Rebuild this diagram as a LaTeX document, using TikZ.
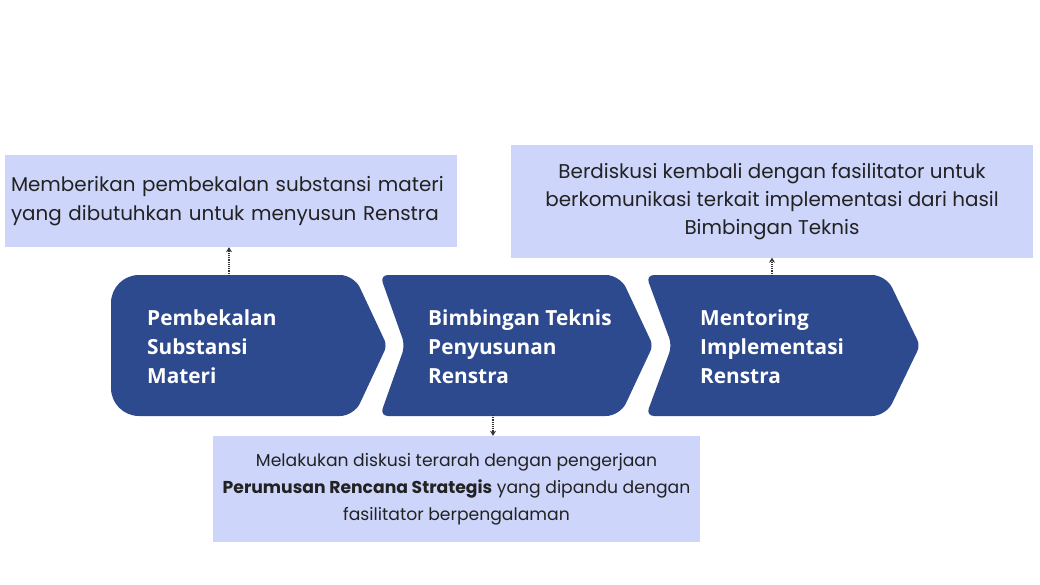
\documentclass[tikz,border=0pt]{standalone}
\usepackage{fontspec}
\usetikzlibrary{arrows.meta}
\newfontfamily\popf{Poppins}
\newfontfamily\opsf{Open Sans}
\definecolor{chev}{HTML}{2E4A8E}
\definecolor{boxc}{HTML}{CDD6FA}
\definecolor{txt}{HTML}{222222}
\tikzset{
  chevshape/.style={fill=chev, draw=none},
  descbox/.style={fill=boxc, draw=none, text=txt, font=\popf\fontsize{19.9}{28.3}\selectfont, inner sep=0pt},
  chevtext/.style={text=white, font=\opsf\bfseries\fontsize{20.8}{29}\selectfont, align=left, anchor=west, inner sep=0pt},
  dotarrow/.style={densely dotted, line width=1.2pt, black!80, -{Stealth[length=5pt,width=6pt]}}
}
\begin{document}
\begin{tikzpicture}[x=1pt,y=-1pt]
\useasboundingbox (0,0) rectangle (1040,585);
\fill[white] (0,0) rectangle (1040,585);
% chevron 1
\path[chevshape,rounded corners=28pt] (111,345.5) -- (111,275) [rounded corners=14pt] -- (354,275) [rounded corners=6pt] -- (387,345.5) [rounded corners=14pt] -- (354,416) [rounded corners=28pt] -- (111,416) -- cycle;
% chevron 2
\path[chevshape,rounded corners=8pt] (405,345.5) -- (380,275) [rounded corners=14pt] -- (620,275) [rounded corners=6pt] -- (653,345.5) [rounded corners=14pt] -- (620,416) [rounded corners=8pt] -- (380,416) -- cycle;
% chevron 3
\path[chevshape,rounded corners=8pt] (672,345.5) -- (646,275) [rounded corners=14pt] -- (886,275) [rounded corners=6pt] -- (920,345.5) [rounded corners=14pt] -- (886,416) [rounded corners=8pt] -- (646,416) -- cycle;
% chevron texts
\node[chevtext] (t1) at (147,347) {Pembekalan\\Substansi\\Materi};
\node[chevtext] (t2) at (428,347) {Bimbingan Teknis\\Penyusunan\\Renstra};
\node[chevtext] (t3) at (700,347) {Mentoring\\Implementasi\\Renstra};
% boxes
\node[descbox, minimum width=452pt, minimum height=92pt, align=left, text width=440pt] (b1) at (231,201) {Memberikan pembekalan substansi materi\\yang dibutuhkan untuk menyusun Renstra};
\node[descbox, minimum width=522pt, minimum height=112pt, align=center] (b2) at (772,201.5) {Berdiskusi kembali dengan fasilitator untuk\\berkomunikasi terkait implementasi dari hasil\\Bimbingan Teknis};
\node[descbox, minimum width=487pt, minimum height=106pt, align=center, font=\popf\fontsize{17.2}{27}\selectfont] (b3) at (456.5,489) {Melakukan diskusi terarah dengan pengerjaan\\{\bfseries Perumusan Rencana Strategis} yang dipandu dengan\\fasilitator berpengalaman};
% arrow anchors
\coordinate (c1) at (229,276);
\coordinate (c2) at (493,415);
\coordinate (c3) at (772,276);
\draw[dotarrow] (c1) -- (c1 |- b1.south);
\draw[dotarrow] (c2) -- (c2 |- b3.north);
\draw[dotarrow] (c3) -- (c3 |- b2.south);
\end{tikzpicture}
\end{document}
